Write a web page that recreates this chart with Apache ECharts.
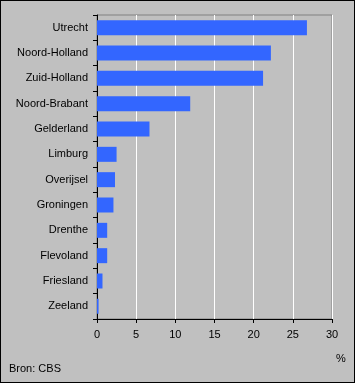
<!DOCTYPE html>
<html><head><meta charset="utf-8">
<script src="https://cdn.jsdelivr.net/npm/echarts@6/dist/echarts.min.js"></script>
<style>
html,body{margin:0;padding:0;background:#c0c0c0;}
#c{width:355px;height:383px;box-sizing:border-box;border:1px solid #000;}
</style></head><body>
<div id="c"></div>
<script>
const categories = ['Utrecht','Noord-Holland','Zuid-Holland','Noord-Brabant','Gelderland','Limburg','Overijsel','Groningen','Drenthe','Flevoland','Friesland','Zeeland'];
const values = [26.8, 22.2, 21.2, 11.9, 6.7, 2.5, 2.3, 2.1, 1.3, 1.3, 0.7, 0.2];
const xTicks = {min: 0, max: 30, interval: 5};
const unitLabel = '%';
const sourceLabel = 'Bron: CBS';

const chart = echarts.init(document.getElementById('c'), null, {renderer: 'canvas'});
const font = 'Liberation Sans, Arial, sans-serif';
chart.setOption({
  backgroundColor: '#c0c0c0',
  animation: false,
  textStyle: {fontFamily: font},
  grid: {left: 96, right: 22, top: 14, bottom: 63, show: true, borderColor: '#808080', borderWidth: 1, backgroundColor: 'transparent'},
  xAxis: {
    type: 'value', min: xTicks.min, max: xTicks.max, interval: xTicks.interval,
    axisLine: {show: true, lineStyle: {color: '#000', width: 1}},
    axisTick: {show: true, length: 4, lineStyle: {color: '#000'}},
    axisLabel: {color: '#000', fontSize: 11, fontFamily: font, margin: 10},
    splitLine: {show: true, lineStyle: {color: '#fff', width: 1}}
  },
  yAxis: {
    type: 'category', data: categories, inverse: true,
    axisLine: {show: true, lineStyle: {color: '#000', width: 1}},
    axisTick: {show: true, length: 4, lineStyle: {color: '#000'}},
    axisLabel: {color: '#000', fontSize: 11, fontFamily: font, margin: 9},
    splitLine: {show: false}
  },
  series: [{
    type: 'bar', data: values, barWidth: 15,
    itemStyle: {color: '#3366ff'}
  }],
  graphic: [
    {type: 'text', left: 335, top: 352, style: {text: unitLabel, fill: '#000', font: '11px ' + font}},
    {type: 'text', left: 8, top: 362, style: {text: sourceLabel, fill: '#000', font: '11px ' + font}}
  ]
});
</script>
</body></html>
